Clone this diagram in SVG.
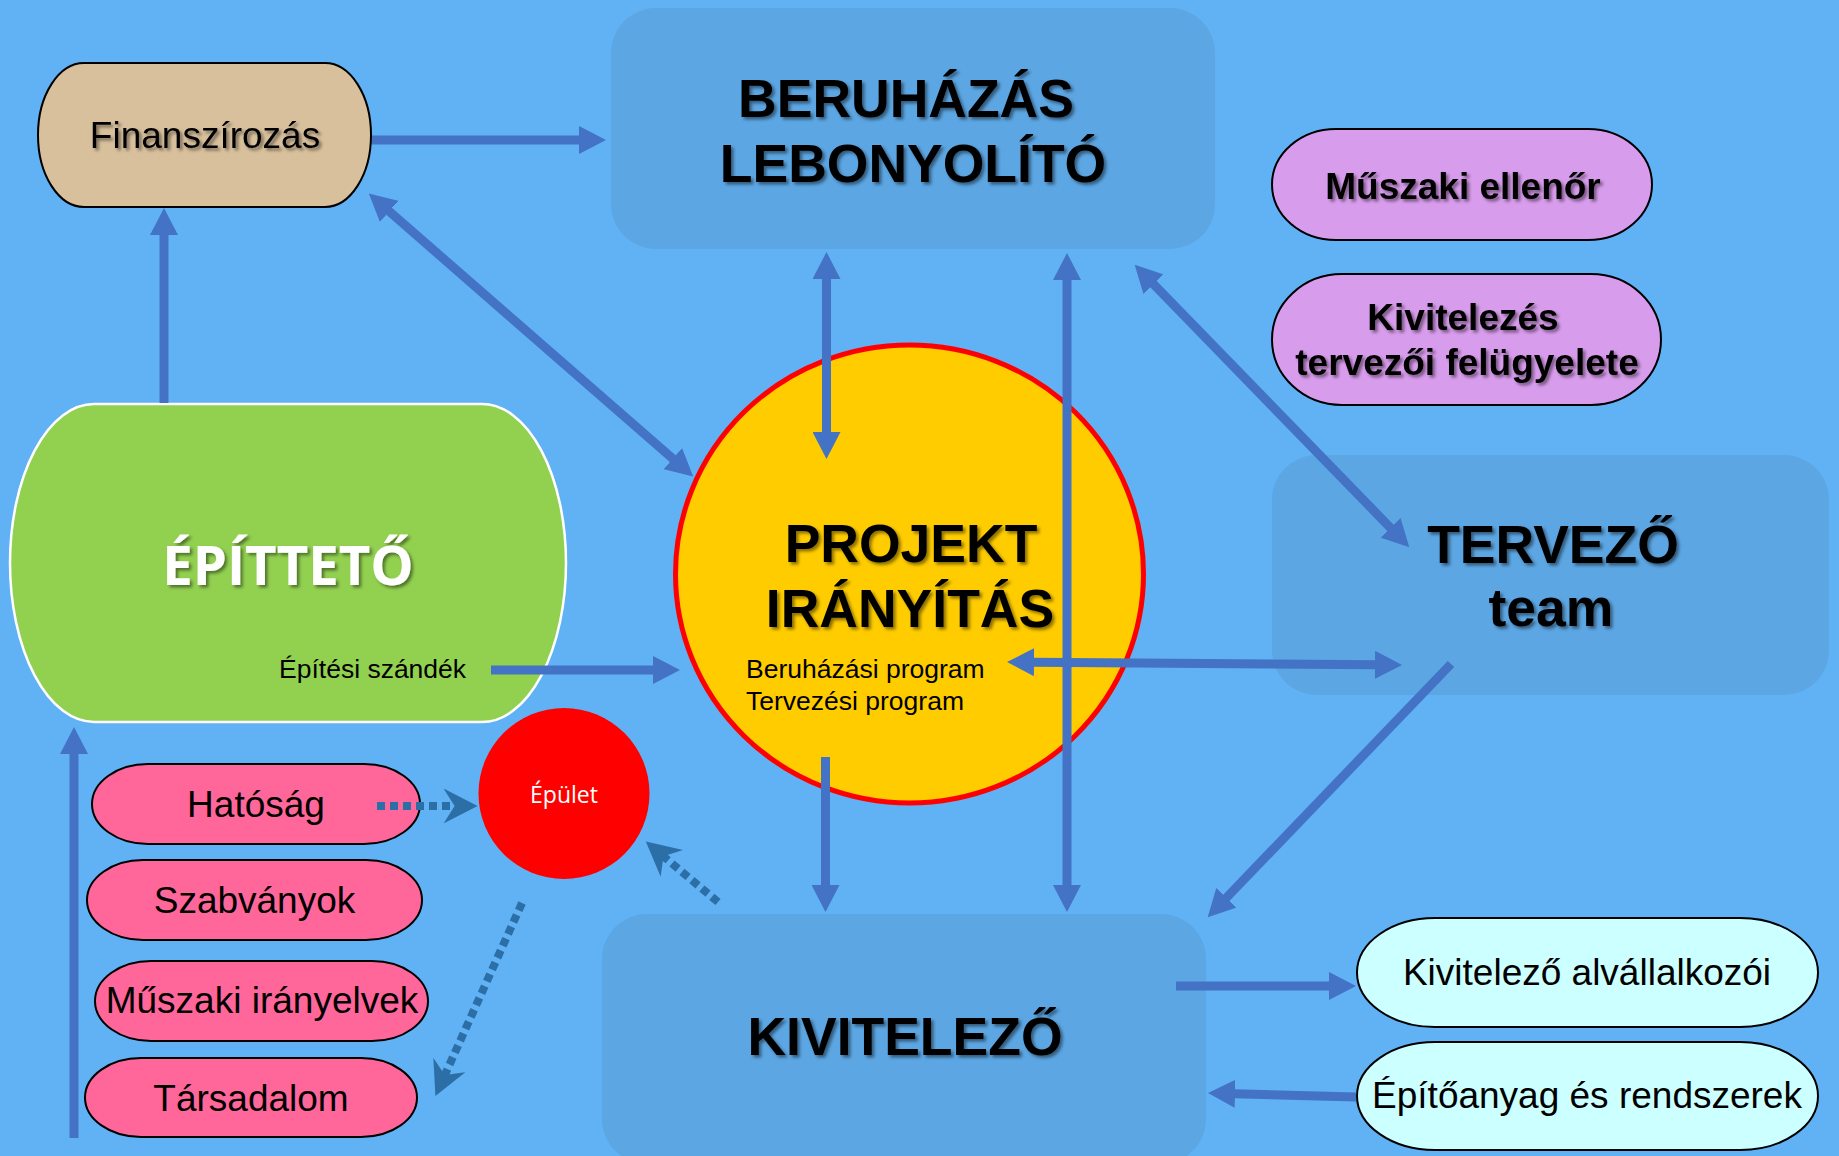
<svg xmlns="http://www.w3.org/2000/svg" width="1839" height="1156" viewBox="0 0 1839 1156">
<defs>
<style>
.bg{fill:#61B1F5}
.box{fill:#5CA6E3}
.t{font-family:"Liberation Sans",Arial,sans-serif;fill:#000;text-anchor:middle}
.hb{font-size:53.5px;font-weight:bold}
.mb{font-size:37px;font-weight:bold}
.n{font-size:37px}
.s{font-size:26.5px;text-anchor:start}
.ob{font-family:"Open Sans","Noto Sans",sans-serif;fill:#fff;text-anchor:middle}
.pill{stroke:#000;stroke-width:2}
.pink{fill:#FF6699}
.cyan{fill:#CCFFFF}
.lav{fill:#D89CEC}
.ar{fill:none;stroke:#4472C4;stroke-width:9}
.dot{fill:none;stroke:#2C6FA6;stroke-width:8;stroke-dasharray:8 5}
</style>
<filter id="sh" x="-10%" y="-20%" width="120%" height="150%">
<feDropShadow dx="2.5" dy="2.5" stdDeviation="1.5" flood-color="#000" flood-opacity="0.45"/>
</filter>
<marker id="ah" viewBox="0 0 27 28" markerWidth="27" markerHeight="28" refX="1" refY="14" orient="auto-start-reverse" markerUnits="userSpaceOnUse">
<path d="M0,0 L27,14 L0,28 z" fill="#4472C4"/>
</marker>
<marker id="dh" viewBox="0 0 34 35" markerWidth="34" markerHeight="35" refX="12" refY="17.5" orient="auto" markerUnits="userSpaceOnUse">
<path d="M0,0 L34,17.5 L0,35 L11,17.5 z" fill="#2C6FA6"/>
</marker>
</defs>
<rect class="bg" x="0" y="0" width="1839" height="1156"/>

<g id="beruhazas">
<rect class="box" x="611" y="8" width="604" height="241" rx="45" ry="45"/>
<text class="t hb" x="906" y="117" filter="url(#sh)">BERUHÁZÁS</text>
<text class="t hb" x="913" y="182" filter="url(#sh)">LEBONYOLÍTÓ</text>
</g>

<g id="tervezo">
<rect class="box" x="1272" y="455" width="557" height="240" rx="45" ry="45"/>
<text class="t hb" x="1553" y="563" filter="url(#sh)">TERVEZŐ</text>
<text class="t hb" x="1551" y="626" filter="url(#sh)">team</text>
</g>

<g id="kivitelezo">
<rect class="box" x="602" y="914" width="604" height="250" rx="45" ry="45"/>
<text class="t hb" x="905" y="1055" filter="url(#sh)">KIVITELEZŐ</text>
</g>

<g id="finanszirozas">
<rect class="pill" fill="#D8C09C" x="38" y="63" width="333" height="144" rx="46" ry="72"/>
<text class="t n" x="205" y="148" filter="url(#sh)">Finanszírozás</text>
</g>

<g id="muszaki-ellenor">
<rect class="pill lav" x="1272" y="129" width="380" height="111" rx="64" ry="55.5"/>
<text class="t mb" x="1463" y="199" filter="url(#sh)">Műszaki ellenőr</text>
</g>

<g id="tervezoi-felugyelet">
<rect class="pill lav" x="1272" y="274" width="389" height="131" rx="70" ry="65.5"/>
<text class="t mb" x="1463" y="330" filter="url(#sh)">Kivitelezés</text>
<text class="t mb" x="1467" y="375" filter="url(#sh)">tervezői felügyelete</text>
</g>

<g id="epitteto">
<rect x="10" y="404" width="556" height="318" rx="84" ry="159" fill="#92D050" stroke="#fff" stroke-width="2.5"/>
<text class="ob" x="288" y="585" font-size="54.5" font-weight="bold" filter="url(#sh)">ÉPÍTTETŐ</text>
<text class="t s" x="279" y="678">Építési szándék</text>
</g>

<g id="projekt">
<ellipse cx="909.5" cy="574" rx="234" ry="229" fill="#FFCC00" stroke="#FF0000" stroke-width="5"/>
<text class="t hb" x="911" y="562" filter="url(#sh)">PROJEKT</text>
<text class="t hb" x="910" y="627" filter="url(#sh)">IRÁNYÍTÁS</text>
<text class="t s" x="746" y="678">Beruházási program</text>
<text class="t s" x="746" y="710">Tervezési program</text>
</g>

<g id="epulet">
<ellipse cx="564" cy="793.5" rx="85.5" ry="85.5" fill="#FF0000"/>
<text class="ob" x="564" y="803" font-size="23">Épület</text>
</g>

<g id="hatosag">
<rect class="pill pink" x="92" y="764" width="328" height="80" rx="56" ry="40"/>
<text class="t n" x="256" y="817">Hatóság</text>
</g>
<g id="szabvanyok">
<rect class="pill pink" x="87" y="860" width="335" height="80" rx="56" ry="40"/>
<text class="t n" x="254.5" y="913">Szabványok</text>
</g>
<g id="muszaki-iranyelvek">
<rect class="pill pink" x="95" y="961" width="333" height="80" rx="56" ry="40"/>
<text class="t n" x="262" y="1013">Műszaki irányelvek</text>
</g>
<g id="tarsadalom">
<rect class="pill pink" x="85" y="1058" width="332" height="79" rx="56" ry="39.5"/>
<text class="t n" x="251" y="1111">Társadalom</text>
</g>

<g id="alvallalkozok">
<rect class="pill cyan" x="1357" y="918" width="461" height="109" rx="78" ry="54.5"/>
<text class="t n" x="1587" y="985">Kivitelező alvállalkozói</text>
</g>
<g id="epitoanyag">
<rect class="pill cyan" x="1357" y="1042" width="461" height="108" rx="78" ry="54"/>
<text class="t n" x="1587" y="1108">Építőanyag és rendszerek</text>
</g>

<g id="connectors">
<path class="ar" d="M164,403 L164,234" marker-end="url(#ah)"/>
<path class="ar" d="M372,140 L580,140" marker-end="url(#ah)"/>
<path class="ar" d="M388.4,210.7 L673.6,459.3" marker-start="url(#ah)" marker-end="url(#ah)"/>
<path class="ar" d="M826.5,278 L826.5,433" marker-start="url(#ah)" marker-end="url(#ah)"/>
<path class="ar" d="M1067,279 L1067,886" marker-start="url(#ah)" marker-end="url(#ah)"/>
<path class="ar" d="M825.5,757 L825.5,886" marker-end="url(#ah)"/>
<path class="ar" d="M1152.8,283.4 L1391.2,528.6" marker-start="url(#ah)" marker-end="url(#ah)"/>
<path class="ar" d="M1033,662.2 L1376,664.8" marker-start="url(#ah)" marker-end="url(#ah)"/>
<path class="ar" d="M1451,664 L1225.7,898.5" marker-end="url(#ah)"/>
<path class="ar" d="M491,670 L654,670" marker-end="url(#ah)"/>
<path class="ar" d="M74,1138 L74,753" marker-end="url(#ah)"/>
<path class="ar" d="M1176,986 L1330,986" marker-end="url(#ah)"/>
<path class="ar" d="M1356,1097 L1234,1093.7" marker-end="url(#ah)"/>
<path class="dot" d="M377,806 L455.6,806" marker-end="url(#dh)"/>
<path class="dot" d="M522,903 L444.4,1076" marker-end="url(#dh)"/>
<path class="dot" d="M718,902 L662.7,855.7" marker-end="url(#dh)"/>
</g>
</svg>
